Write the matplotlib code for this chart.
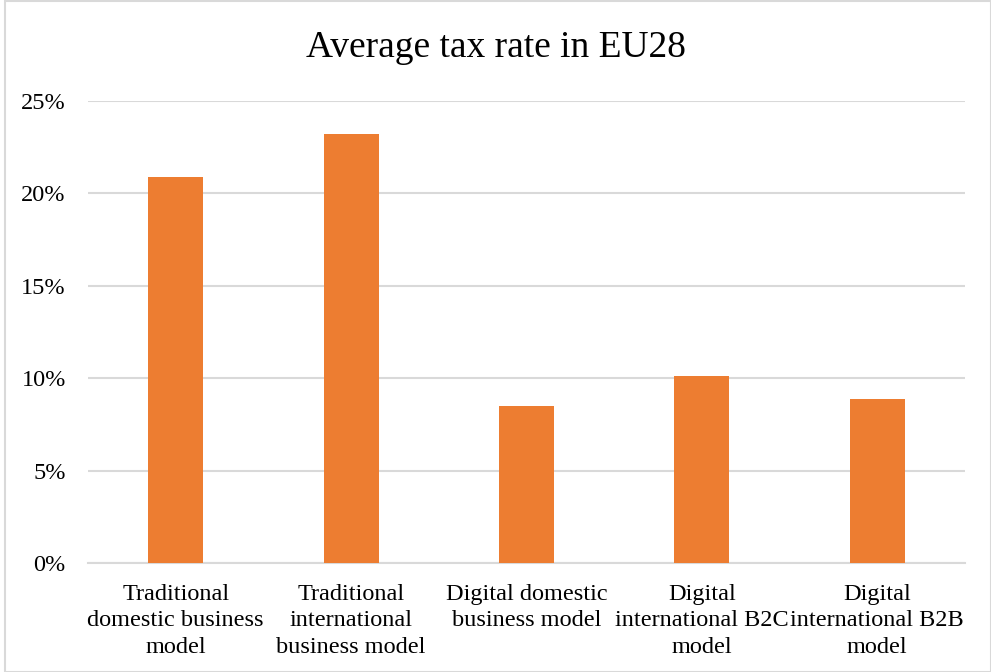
import matplotlib
matplotlib.use("Agg")
import matplotlib.pyplot as plt
from matplotlib.patches import Rectangle
from matplotlib.ticker import FuncFormatter

categories = [
    "Traditional\ndomestic business\nmodel",
    "Traditional\ninternational\nbusiness model",
    "Digital domestic\nbusiness model",
    "Digital\ninternational B2C\nmodel",
    "Digital\ninternational B2B\nmodel",
]
tax_rate = [0.209, 0.232, 0.085, 0.101, 0.089]
y_ticks = [0.0, 0.05, 0.10, 0.15, 0.20, 0.25]

plt.rcParams["font.family"] = ["Liberation Serif", "DejaVu Serif"]

fig = plt.figure(figsize=(9.91, 6.72), dpi=100)
ax = fig.add_axes([88 / 991, 1 - 563 / 672, (965 - 88) / 991, (563 - 101) / 672])

x = range(len(categories))
ax.bar(x, tax_rate, width=0.314, color="#ED7D31", zorder=3)

ax.set_xlim(-0.5, len(categories) - 0.5)
ax.set_ylim(0, 0.25)
ax.set_yticks(y_ticks)
ax.yaxis.set_major_formatter(FuncFormatter(lambda v, _: f"{v * 100:.0f}%"))
ax.set_xticks(list(x))
ax.set_xticklabels(categories, fontsize=17.5, linespacing=1.34)

ax.grid(axis="y", color="#d9d9d9", linewidth=1.5, zorder=0)
for side in ["top", "right", "left"]:
    ax.spines[side].set_visible(False)
ax.spines["bottom"].set_color("#d9d9d9")
ax.spines["bottom"].set_linewidth(1.5)
ax.tick_params(axis="both", length=0, labelsize=17.5, colors="black")
ax.tick_params(axis="y", pad=16)
ax.tick_params(axis="x", pad=15)

fig.text(0.5, 1 - 48 / 672, "Average tax rate in EU28", ha="center", va="center", fontsize=27)

fig.patches.append(Rectangle((5 / 991, 0), 1 - 5 / 991 - 0.5 / 991, 1 - 0.5 / 672,
                             transform=fig.transFigure, fill=False,
                             edgecolor="#d9d9d9", linewidth=1.5))

fig.savefig("out.png", dpi=100)
